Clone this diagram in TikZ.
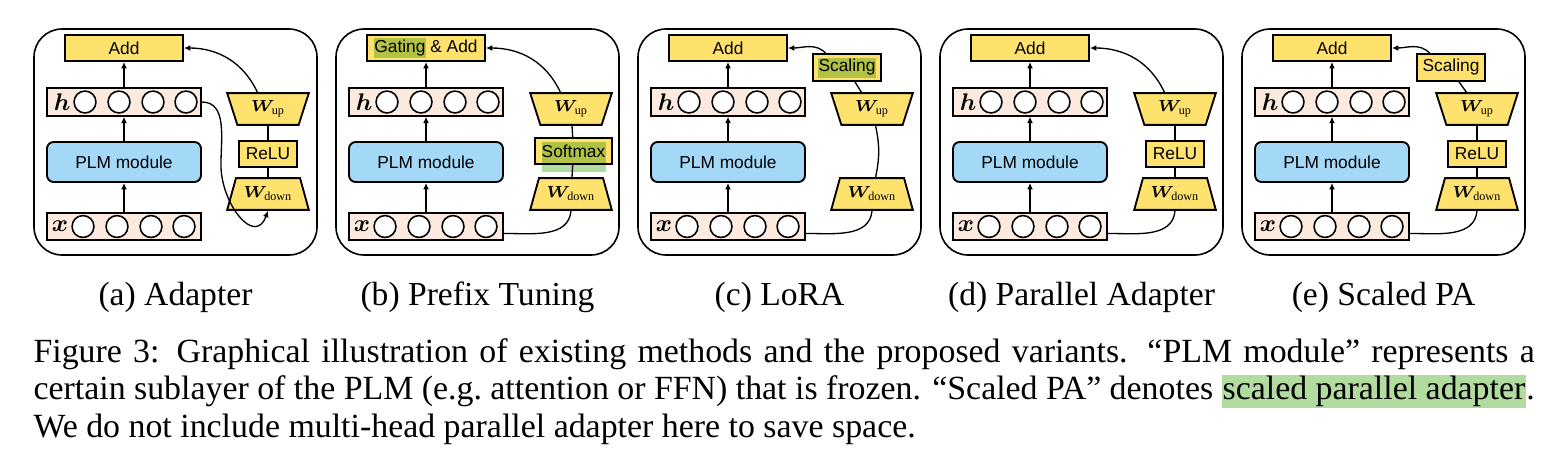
\documentclass[tikz,border=0pt]{standalone}
\usepackage{fontspec}
\setmainfont{Liberation Serif}
\setsansfont{Liberation Sans}
\usepackage{bm}
\usetikzlibrary{shapes.geometric, arrows.meta, positioning}

\definecolor{boxyellow}{RGB}{255,226,110}
\definecolor{rowpeach}{RGB}{252,234,222}
\definecolor{plmblue}{RGB}{163,216,246}
\definecolor{hlgreen}{RGB}{178,219,160}

\newcommand{\hlcap}[1]{{\setlength{\fboxsep}{0.4pt}\colorbox{hlgreen}{#1}}}
\newcommand{\wlabel}[1]{\makebox[0pt]{$\bm{W}_{\mathrm{#1}}$}}

\begin{document}
\begin{tikzpicture}[
x=0.375pt, y=0.375pt,
every node/.style={font=\sffamily\fontsize{6.5}{8}\selectfont},
panel/.style={draw, line width=0.6pt, rounded corners=10.5pt},
yellowbox/.style={draw, line width=0.7pt, fill=boxyellow, inner sep=0pt, minimum height=9.75pt},
rowbox/.style={draw, line width=0.7pt, fill=rowpeach, minimum width=57.75pt, minimum height=10.3pt, inner sep=0pt},
plmbox/.style={draw, line width=0.7pt, fill=plmblue, rounded corners=2.5pt, minimum width=57.75pt, minimum height=15pt},
unit/.style={circle, draw, line width=0.6pt, fill=white, minimum size=8.2pt, inner sep=0pt},
rowlabel/.style={font=\fontsize{9.5}{11}\selectfont, inner sep=0pt},
wdownbox/.style={trapezium, draw, line width=0.7pt, fill=boxyellow, trapezium left angle=58, trapezium right angle=58, trapezium stretches body=true, minimum width=30.6pt, minimum height=11.9pt, inner sep=0pt, font=\fontsize{6.5}{8}\selectfont},
wupbox/.style={wdownbox, shape border rotate=180},
link/.style={line width=0.5pt},
arrow/.style={link, -{Latex[length=2.4pt, width=2.2pt]}},
subcap/.style={font=\rmfamily\fontsize{12.6}{15}\selectfont, anchor=base},
]
\useasboundingbox (0,0) rectangle (1568,-455);

% the frozen part, the same in all five panels
\foreach \p/\lx/\addtxt/\cap in {a/34/Add/(a) Adapter, b/336/{Gating \& Add}/(b) Prefix Tuning, c/638/Add/(c) LoRA, d/940/Add/(d) Parallel Adapter, e/1242/Add/(e) Scaled PA}{
  \begin{scope}[shift={(\lx,0)}]
    \draw[panel] (0,-29) rectangle (283,-255);
    \node[yellowbox, minimum width=44.25pt] (add-\p) at (90,-48) {\addtxt};
    \node[rowbox] (h-\p) at (90,-102) {};
    \node[plmbox] (plm-\p) at (90,-162) {PLM module};
    \node[rowbox] (x-\p) at (90,-226.5) {};
    \node[rowlabel] (hlab-\p) at (28,-102) {$\bm{h}$};
    \node[rowlabel] (xlab-\p) at (26,-226.5) {$\bm{x}$};
    \foreach \i/\cx in {1/51,2/85,3/119,4/152} {
      \node[unit] (hu\i-\p) at (\cx,-102) {};
      \node[unit] (xu\i-\p) at (\cx-2,-226.5) {};
    }
    \draw[arrow] (h-\p) -- (add-\p);
    \draw[arrow] (plm-\p) -- (h-\p);
    \draw[arrow] (x-\p) -- (plm-\p);
    \node[subcap] (cap-\p) at (141.5,-305) {\cap};
  \end{scope}
}

% (a) Adapter
\begin{scope}[shift={(34,0)}]
  \node[wupbox] (wup-a) at (234,-109) {\wlabel{up}};
  \node[yellowbox, minimum width=21.75pt] (relu-a) at (234,-154) {ReLU};
  \node[wdownbox] (wdown-a) at (234,-194) {\raisebox{-1pt}{\wlabel{down}}};
  \draw[arrow] ([xshift=-4pt]wup-a.north) to[out=115,in=0] (add-a.east);
  \draw[link] (wup-a) -- (relu-a);
  \draw[link] (relu-a) -- (wdown-a);
  \draw[arrow] (h-a.east) to[out=0,in=90] ++(19,-63) to[out=-90,in=-110,looseness=1.5] (wdown-a.south);
\end{scope}

% (b) Prefix Tuning
\begin{scope}[shift={(336,0)}]
  \node[wupbox] (wup-b) at (235,-109) {\wlabel{up}};
  \node[yellowbox, minimum width=28.9pt] (softmax-b) at (237.5,-151) {Softmax};
  \node[wdownbox] (wdown-b) at (235,-194) {\raisebox{-1pt}{\wlabel{down}}};
  \fill[hlgreen, blend mode=multiply] (38,-38) rectangle (90,-58);
  \fill[hlgreen, blend mode=multiply] (206,-142) rectangle (270,-172);
  \draw[arrow] ([xshift=-4pt]wup-b.north) to[out=115,in=0] (add-b.east);
  \draw[link] (wup-b) -- (softmax-b);
  \draw[link] (softmax-b) -- (wdown-b);
  \draw[link] ([yshift=-2.6pt]x-b.east) to[out=0,in=-95] (wdown-b.south);
\end{scope}

% (c) LoRA
\begin{scope}[shift={(638,0)}]
  \node[yellowbox, minimum width=25.5pt, minimum height=10.1pt] (scaling-c) at (209,-67.5) {Scaling};
  \node[wupbox] (wup-c) at (234,-109) {\wlabel{up}};
  \node[wdownbox] (wdown-c) at (234,-194) {\raisebox{-1pt}{\wlabel{down}}};
  \fill[hlgreen, blend mode=multiply] (180,-58) rectangle (238,-78);
  \draw[arrow] ([xshift=-8pt]scaling-c.north) to[out=135,in=0] (add-c.east);
  \draw[link] ([xshift=-4pt]wup-c.north) -- ([xshift=3pt]scaling-c.south);
  \draw[link] (wup-c) to[bend left=12] (wdown-c);
  \draw[link] ([yshift=-2.6pt]x-c.east) to[out=0,in=-95] (wdown-c.south);
\end{scope}

% (d) Parallel Adapter
\begin{scope}[shift={(940,0)}]
  \node[wupbox] (wup-d) at (235,-109) {\wlabel{up}};
  \node[yellowbox, minimum width=21.75pt] (relu-d) at (235,-154) {ReLU};
  \node[wdownbox] (wdown-d) at (235,-194) {\raisebox{-1pt}{\wlabel{down}}};
  \draw[arrow] ([xshift=-4pt]wup-d.north) to[out=115,in=0] (add-d.east);
  \draw[link] (wup-d) -- (relu-d);
  \draw[link] (relu-d) -- (wdown-d);
  \draw[link] ([yshift=-2.6pt]x-d.east) to[out=0,in=-95] (wdown-d.south);
\end{scope}

% (e) Scaled PA
\begin{scope}[shift={(1242,0)}]
  \node[yellowbox, minimum width=25.5pt, minimum height=10.1pt] (scaling-e) at (209,-67.5) {Scaling};
  \node[wupbox] (wup-e) at (235,-109) {\wlabel{up}};
  \node[yellowbox, minimum width=21.75pt] (relu-e) at (235,-154) {ReLU};
  \node[wdownbox] (wdown-e) at (235,-194) {\raisebox{-1pt}{\wlabel{down}}};
  \draw[arrow] ([xshift=-8pt]scaling-e.north) to[out=135,in=0] (add-e.east);
  \draw[link] ([xshift=-4pt]wup-e.north) -- ([xshift=3pt]scaling-e.south);
  \draw[link] (wup-e) -- (relu-e);
  \draw[link] (relu-e) -- (wdown-e);
  \draw[link] ([yshift=-2.6pt]x-e.east) to[out=0,in=-95] (wdown-e.south);
\end{scope}

% caption
\node[anchor=base west, text width=563pt, align=justify, inner sep=0pt, font=\rmfamily\fontsize{12.7}{14.06}\selectfont] (caption) at (33,-362)
  {Figure 3: Graphical illustration of existing methods and the proposed variants. “PLM module” represents a\linebreak
   certain sublayer of the PLM (e.g.\ attention or FFN) that is frozen. “Scaled PA” denotes \hlcap{scaled parallel adapter}.\linebreak
   We do not include multi-head parallel adapter here to save space.};
\end{tikzpicture}
\end{document}
